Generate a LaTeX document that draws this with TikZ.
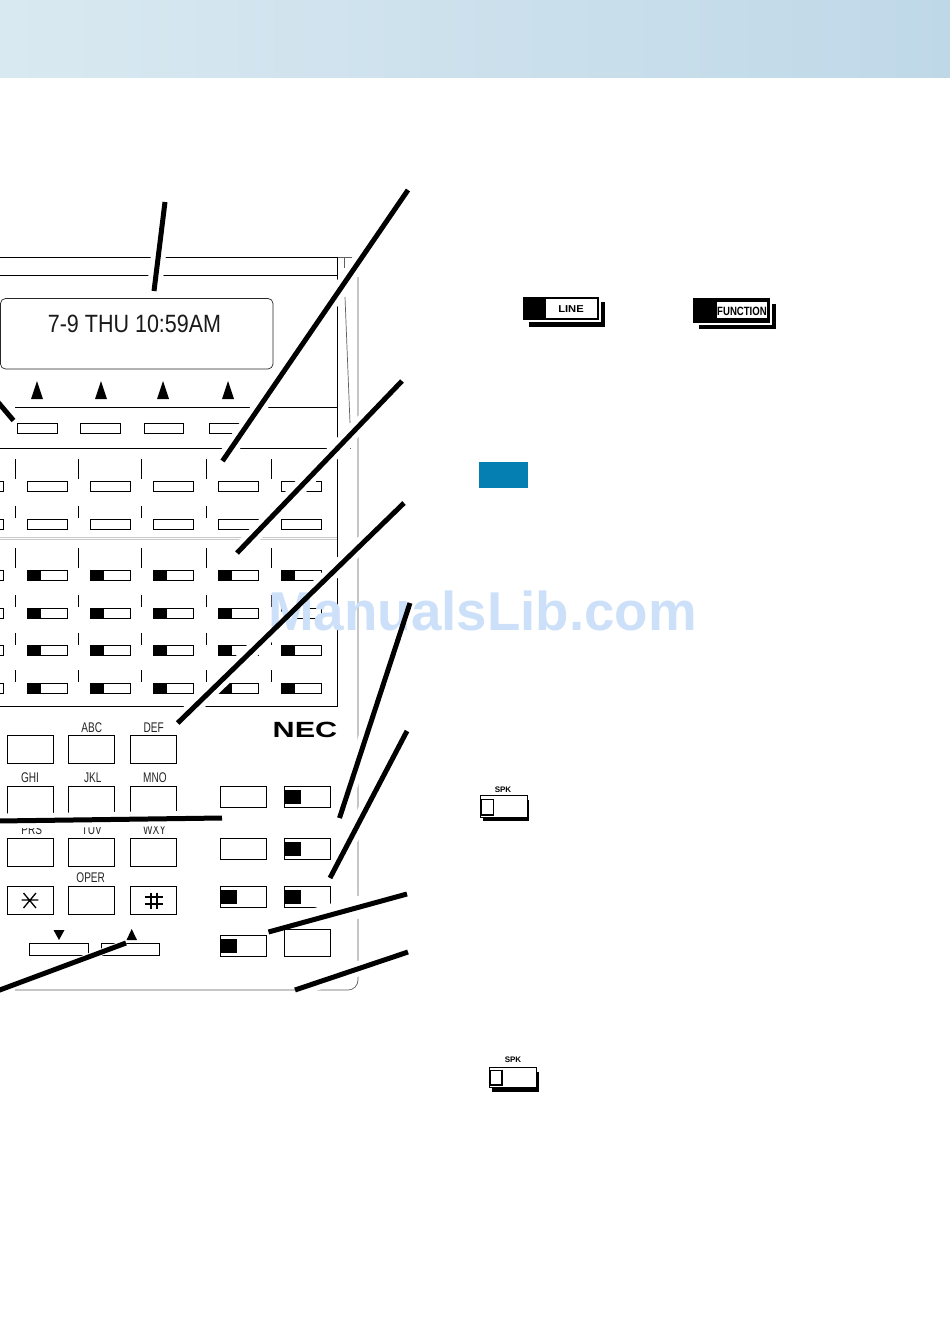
\documentclass[tikz,border=0pt]{standalone}
\usepackage{fontspec}
\setmainfont{Liberation Sans}
\newcommand{\nar}[2]{\scalebox{#1}[1]{#2}}
\definecolor{hdrL}{HTML}{D9E9F1}
\definecolor{hdrR}{HTML}{BFD8E8}
\definecolor{wmark}{RGB}{204,224,250}
\definecolor{grayline}{RGB}{95,95,95}
\definecolor{tealbox}{RGB}{5,126,178}
\tikzset{
  x=1pt,y=-1pt,
  thin line/.style={line width=.9pt,black},
  gray line/.style={line width=.7pt,grayline},
  keybox/.style={line width=.9pt,draw=black,fill=white},
  halo/.style={line width=15pt,white},
  leader/.style={line width=5pt,black},
  keylabel/.style={inner sep=0pt,font=\fontsize{14}{14}\selectfont,text=black!85},
  btnlabel/.style={inner sep=0pt,font=\bfseries\fontsize{10}{10}\selectfont},
}
\begin{document}
\begin{tikzpicture}
\useasboundingbox (0,0) rectangle (950,1330);
\clip (0,0) rectangle (950,1330);
\fill[white] (0,0) rectangle (950,1330);
% header band
\shade[left color=hdrL,right color=hdrR] (0,0) rectangle (950,77);

% phone outline
\draw[thin line] (0,257) -- (337.5,257);
\draw[gray line] (337.5,257) -- (352,257);
\draw[thin line] (0,275) -- (337.5,275);
\draw[thin line] (337.5,257) -- (337.5,706) -- (0,706);
\draw[gray line] (344,257) -- (344,268);
\draw[gray line] (345,297) -- (350,423);
\draw[gray line] (350,448) -- (351,448);
\draw[gray line] (358,277) -- (358,980) arc[start angle=0,end angle=90,radius=10] -- (15,990);
\draw[thin line] (15,407) -- (337.5,407);
\draw[thin line] (0,448) -- (345,448);
\draw[black!22,line width=.7pt] (0,537.5) -- (337,537.5);
\draw[black!22,line width=.7pt] (0,539.5) -- (337,539.5);

% display
\draw[line width=.7pt,draw=black!85,rounded corners=5pt] (.5,298.5) rectangle (273,369);
\node (display) [inner sep=0pt,font=\fontsize{25}{25}\selectfont,text=black!90] at (134.5,323.5) {\nar{.86}{7-9 THU 10:59AM}};

% softkey arrows and keys
\foreach \x in {37,101,163,228} \fill (\x-6,399) -- (\x,381) -- (\x+6,399) -- cycle;
\foreach \x/\w in {17.3/40.2,80/40.5,144/39.5,209.5/40} \draw[thin line] (\x,423) rectangle (\x+\w,433);

% ticks
\foreach \x in {15.3,78.5,141.5,206.5,271.5}
  \foreach \a/\b in {459/479,506/518,548/568,595/607,633/645,670/682}
    \draw[thin line] (\x,\a) -- (\x,\b);

% feature keys
\foreach \y in {481,519,570,608,645.5,683}
  \foreach \x in {-37,27,90,153,218,281}
    \draw[thin line] (\x,\y) rectangle ++(40.5,10.3);
% lamps
\foreach \y in {570,608,645.5,683}
  \foreach \x in {27,90,153,218,281}
    \fill (\x,\y) rectangle ++(14,10.3);

% keypad
\foreach \x in {7.3,68.5,130.5}
  \foreach \y in {735,786.7,838.3,886}
    \draw[thin line] (\x,\y) rectangle ++(46,28.2);
\node (kabc) [keylabel] at (91.7,728) {\nar{.72}{ABC}};
\node (kdef) [keylabel] at (153.7,728) {\nar{.72}{DEF}};
\node (kghi) [keylabel] at (30,778) {\nar{.72}{GHI}};
\node (kjkl) [keylabel] at (92.7,778) {\nar{.72}{JKL}};
\node (kmno) [keylabel] at (155,778) {\nar{.72}{MNO}};
\node (kprs) [keylabel] at (31.7,830) {\nar{.72}{PRS}};
\node (ktuv) [keylabel] at (91.7,830) {\nar{.72}{TUV}};
\node (kwxy) [keylabel] at (154.7,830) {\nar{.72}{WXY}};
\node (koper) [keylabel] at (90.7,878) {\nar{.72}{OPER}};
% star and hash
\draw[line width=1.3pt] (21.7,900) -- (38.3,900) (23.5,893) -- (36,908) (36,893) -- (23.5,908);
\draw[line width=2pt] (150.7,892.7) -- (150.7,909) (157.3,892.7) -- (157.3,909)
  (145,897.3) -- (162.7,897.3) (145,904) -- (162.7,904);
% volume
\fill (53.5,930) -- (64.5,930) -- (59,940) -- cycle;
\fill (126.5,940) -- (137,940) -- (131.7,929) -- cycle;
\draw[thin line] (29.3,943.3) rectangle (88.5,955.5);
\draw[thin line] (101.3,943.3) rectangle (159.5,955.5);

% right-hand keys
\foreach \x/\y in {220/786.7,284/786.7,220/838.3,284/838.3,220/886.5,284/886.5,220/935.5}
  \draw[thin line] (\x,\y) rectangle ++(46.5,21);
\foreach \x/\y in {285/790,285/842,221/890,285/890,221/939}
  \fill (\x,\y) rectangle ++(15.5,13.5);

% NEC logo
\node (nec) [inner sep=0pt,font=\bfseries\fontsize{22}{22}\selectfont] at (305,730) {\scalebox{1.39}[1]{NEC}};

% white halos around the leader lines
\foreach \a/\b/\c/\d in {
  165/202/154/291, 408/190/222.5/461, 402/381/237/553, 404/503/177.7/723,
  410/603/339.5/818, 407/731/330/878, 408/952/295/990,
  222/818/-2/821, 13.5/420.5/-3/401}
  \draw[halo] (\a,\b) -- (\c,\d);
\draw[halo,line width=22pt] (407,894) -- (268.5,932);
\draw[halo,line width=7pt] (126,943) -- (-3,991);

% watermark
\node (wm) [inner sep=0pt,anchor=base west,text=wmark,font=\bfseries\fontsize{54.7}{54.7}\selectfont] at (268,630) {ManualsLib.com};

% last key sits over the halo
\draw[keybox] (284,929) rectangle (330.5,956.5);

% leader lines
\foreach \a/\b/\c/\d in {
  165/202/154/291, 408/190/222.5/461, 402/381/237/553, 404/503/177.7/723,
  410/603/339.5/818, 407/731/330/878, 407/894/268.5/932, 408/952/295/990,
  222/818/-2/821, 126/943/-3/991, 13.5/420.5/-3/401}
  \draw[leader] (\a,\b) -- (\c,\d);

% LINE legend button
\fill (529,302) rectangle (605,327);
\fill[white] (523,296) rectangle (601,322);
\fill (523,297) rectangle (599,320);
\fill[white] (546,299) rectangle (597,318);
\node (line) [btnlabel] at (571,309.5) {\nar{1.12}{LINE}};

% FUNCTION legend button
\fill (699,304) rectangle (776,329);
\fill[white] (693,297) rectangle (772,325);
\fill (693,298) rectangle (770,323);
\fill[white] (717,302) rectangle (767,318);
\node (func) [btnlabel,font=\bfseries\fontsize{12}{12}\selectfont] at (742,311) {\nar{.8}{FUNCTION}};

% blue box
\fill[tealbox] (479,462) rectangle (528,488);

% SPK legend buttons
\fill (483,800) rectangle (529,821);
\draw[line width=1pt,fill=white] (480.5,795.5) rectangle (527,817);
\draw[line width=1.3pt,fill=white] (481.5,799.5) rectangle (493.3,815);
\node (spka) [btnlabel,font=\bfseries\fontsize{8}{8}\selectfont] at (503,790) {SPK};

\fill (492,1072) rectangle (538.5,1091.5);
\draw[line width=1pt,fill=white] (489.5,1067.5) rectangle (536,1087);
\draw[line width=1.3pt,fill=white] (490.5,1070.5) rectangle (502,1085);
\node (spkb) [btnlabel,font=\bfseries\fontsize{8}{8}\selectfont] at (513,1060) {SPK};
\end{tikzpicture}
\end{document}
